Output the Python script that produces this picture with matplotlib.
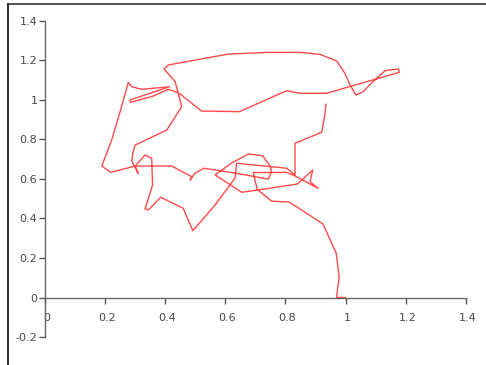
import matplotlib
matplotlib.use("Agg")
import matplotlib.pyplot as plt
from matplotlib.lines import Line2D
from matplotlib.transforms import ScaledTranslation

# path (data coordinates)
xs = [1.000, 0.970, 0.979, 0.969, 0.925, 0.813, 0.755, 0.706, 0.693, 0.804,
      0.832, 0.909, 0.882, 0.891, 0.840, 0.655, 0.566, 0.621, 0.677, 0.724,
      0.749, 0.754, 0.743, 0.638, 0.529, 0.499, 0.483, 0.488, 0.422, 0.300,
      0.219, 0.189, 0.222, 0.250, 0.277, 0.289, 0.322, 0.414, 0.283, 0.285,
      0.360, 0.410, 0.444, 0.521, 0.647, 0.804, 0.849, 0.937, 1.179, 1.176,
      1.131, 1.082, 1.059, 1.035, 1.015, 0.998, 0.971, 0.915, 0.849, 0.743,
      0.610, 0.499, 0.410, 0.396, 0.433, 0.455, 0.405, 0.300, 0.292, 0.289,
      0.310, 0.300, 0.333, 0.355, 0.358, 0.333, 0.344, 0.385, 0.460, 0.492,
      0.566, 0.632, 0.638, 0.804, 0.832, 0.832, 0.921, 0.932, 0.935]
ys = [0.000, 0.000, 0.104, 0.224, 0.372, 0.483, 0.487, 0.547, 0.632, 0.633,
      0.615, 0.552, 0.586, 0.645, 0.574, 0.532, 0.620, 0.680, 0.726, 0.717,
      0.665, 0.636, 0.599, 0.628, 0.654, 0.629, 0.594, 0.611, 0.665, 0.665,
      0.633, 0.665, 0.797, 0.940, 1.087, 1.066, 1.053, 1.066, 0.999, 0.987,
      1.019, 1.053, 1.036, 0.943, 0.940, 1.046, 1.033, 1.033, 1.139, 1.156,
      1.147, 1.078, 1.041, 1.024, 1.075, 1.134, 1.196, 1.230, 1.240, 1.240,
      1.231, 1.201, 1.176, 1.156, 1.092, 0.965, 0.847, 0.771, 0.729, 0.690,
      0.628, 0.665, 0.721, 0.704, 0.569, 0.448, 0.443, 0.507, 0.451, 0.338,
      0.468, 0.603, 0.679, 0.654, 0.620, 0.780, 0.836, 0.932, 0.977]

xticks = [0, 0.2, 0.4, 0.6, 0.8, 1, 1.2, 1.4]
xticklabels = ["0", "0.2", "0.4", "0.6", "0.8", "1", "1.2", "1.4"]
yticks = [-0.2, 0, 0.2, 0.4, 0.6, 0.8, 1, 1.2, 1.4]
yticklabels = ["-0.2", "0", "0.2", "0.4", "0.6", "0.8", "1", "1.2", "1.4"]

W, H = 486, 365
fig = plt.figure(figsize=(W / 100, H / 100), dpi=100)
ax = fig.add_axes([0, 0, 1, 1])
ax.patch.set_alpha(0)

# pixel mapping: x=0 at px 45, 300.5 px/unit ; y=0 at py 297.5, 197.7 px/unit
x0, sx = 45.0, 300.5
y0, sy = 297.5, 197.7
ax.set_xlim(-x0 / sx, (W - x0) / sx)
ax.set_ylim((y0 - H) / sy, y0 / sy)

ax.plot(xs, ys, color="#ff2a2a", lw=1.0, alpha=0.85)

for s in ["top", "right"]:
    ax.spines[s].set_visible(False)
ax.spines["left"].set_position(("data", 0))
ax.spines["bottom"].set_position(("data", 0))
ax.spines["left"].set_bounds(-0.2, 1.4)
ax.spines["bottom"].set_bounds(0, 1.4)
for s in ["left", "bottom"]:
    ax.spines[s].set_color("#666666")
    ax.spines[s].set_linewidth(1.0)

ax.set_xticks(xticks)
ax.set_xticklabels(xticklabels)
ax.set_yticks(yticks)
ax.set_yticklabels(yticklabels)
ax.tick_params(axis="both", direction="out", length=4, width=1, color="#555555",
               labelsize=8, labelcolor="#4a4a4a")
ax.tick_params(axis="x", pad=7.5)
ax.tick_params(axis="y", pad=1.5)

off = ScaledTranslation(1.7 / 100, 0, fig.dpi_scale_trans)
for lab in ax.get_xticklabels():
    lab.set_transform(lab.get_transform() + off)

# frame lines of the outer box (left and top)
fig.add_artist(Line2D([7.5 / W, 7.5 / W], [0, 1 - 4 / H], color="#333333", lw=1.5))
fig.add_artist(Line2D([7.5 / W, 1], [1 - 4 / H, 1 - 4 / H], color="#333333", lw=1.2))

fig.savefig("out.png", dpi=100)
